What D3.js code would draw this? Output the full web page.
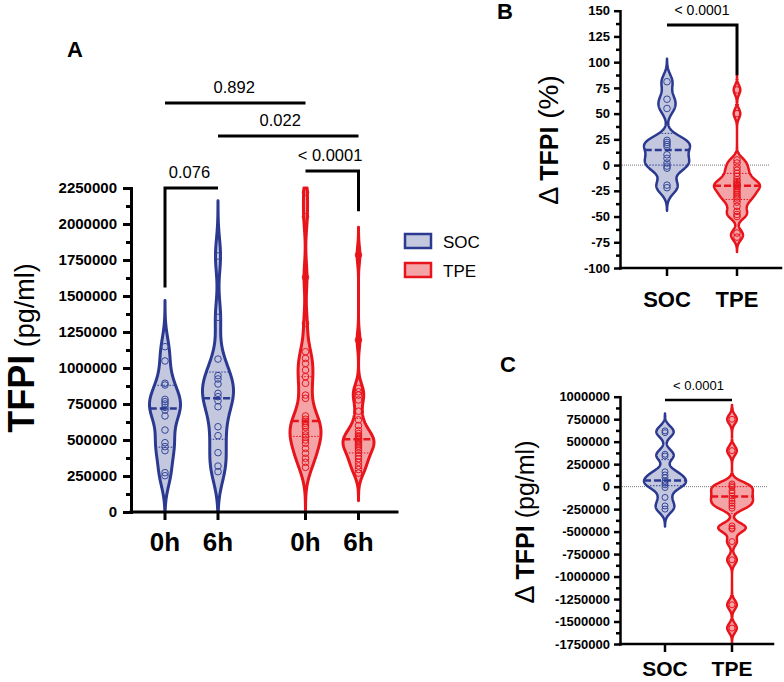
<!DOCTYPE html>
<html>
<head>
<meta charset="utf-8">
<script src="https://cdn.jsdelivr.net/npm/d3@7"></script>
<style>
  body { margin: 0; background: #fff; }
  svg { display: block; }
</style>
</head>
<body>
<div id="frame_div"></div>
<script>
// ---- data ----

const ARMS = ["SOC", "TPE"];
const TIMES = ["0h", "6h"];

// Panel A: TFPI (pg/ml) per arm and time point
const A_SOC_0H = [1148000, 1049000, 894000, 882000, 782000, 766000, 750000, 727000,
                  708000, 667000, 569000, 481000, 454000, 426000, 273000, 252000];
const A_SOC_6H = [1778000, 1352000, 1062000, 947000, 924000, 889000, 824000, 801000,
                  773000, 731000, 592000, 530000, 412000, 319000, 280000];
const A_TPE_0H = [2220000, 2050000, 1630000, 1310000, 1113000, 1067000, 1032000, 986000,
                  940000, 894000, 812000, 789000, 667000, 644000, 630000, 616000, 600000,
                  588000, 558000, 535000, 520000, 500000, 477000, 442000, 408000, 373000,
                  345000, 310000];
const A_TPE_6H = [1785000, 1194000, 859000, 835000, 812000, 778000, 700000, 640000, 600000,
                  565000, 545000, 530000, 520000, 510000, 500000, 490000, 480000, 470000,
                  458000, 445000, 430000, 410000, 390000, 370000, 345000, 320000, 295000,
                  270000];
// [Q1, median, Q3] for 0h and 6h
const A_SOC_QUART = [[450000, 718000, 880000], [505000, 790000, 972000]];
const A_TPE_QUART = [[525000, 632000, 940000], [410000, 505000, 650000]];
const A_TICKS = d3.range(0, 2250001, 250000);
const A_PVALUES = ["0.076", "< 0.0001", "0.892", "0.022"];
const A_PAIRS = [[["SOC", "0h"], ["SOC", "6h"]], [["TPE", "0h"], ["TPE", "6h"]],
                 [["SOC", "0h"], ["TPE", "0h"]], [["SOC", "6h"], ["TPE", "6h"]]];

// Panel B: change in TFPI (%)
const B_SOC = [81, 64, 55, 24, 22, 20, 18, 10, 6.5, 2, -1, -3, -19.5, -22];
const B_TPE = [73, 50, 5, 2, -2, -5, -8, -11, -14, -16, -18, -19, -20, -21, -23, -25,
               -27, -29, -31, -33, -36, -40, -45, -48, -50, -66, -70];
const B_QUART = [[0, 14.6, 30.8], [-33.4, -20.1, -8.1]];
const B_TICKS = d3.range(-100, 151, 25);
const B_PVALUE = "< 0.0001";

// Panel C: change in TFPI (pg/ml)
const C_SOC = [620000, 600000, 360000, 340000, 165000, 130000, 100000, 60000, 40000,
               20000, -10000, -120000, -215000, -250000];
const C_TPE = [749000, 400000, 30000, 10000, -7000, -44000, -70000, -103000, -130000,
               -160000, -185000, -214000, -240000, -437000, -462000, -473000, -611000,
               -814000, -1314000, -1573000];
const C_QUART = [[10000, 67000, 300000], [-300000, -111000, 0]];
const C_TICKS = d3.range(-1750000, 1000001, 250000);
const C_PVALUE = "< 0.0001";

// ---- drawing ----

const FONT = '"Liberation Sans", Arial, Helvetica, sans-serif';
const COLORS = {
  SOC: {stroke: "#2b3990", fill: "#c3c8df", point: "#36479a"},
  TPE: {stroke: "#e8141c", fill: "#f4a4a7", point: "#e8141c"}
};

const svg = d3.select("#frame_div").append("svg")
  .attr("width", 784).attr("height", 682)
  .attr("font-family", FONT);

// gaussian kde, tails cut 3.2 bandwidths past the extreme points
function profile(values, h, lo, hi) {
  const s = values.slice().sort(d3.ascending);
  const a = Math.max(lo, s[0] - 3.2 * h);
  const b = Math.min(hi, s[s.length - 1] + 3.2 * h);
  const dens = v => d3.sum(s, x => Math.exp(-0.5 * ((v - x) / h) ** 2));
  const pts = d3.range(0, 301).map(i => {
    const v = a + (b - a) * i / 300;
    return [v, dens(v)];
  });
  return {dens, pts, top: b};
}

function violin(g, values, quart, cx, y, bw, half, col, sw, r) {
  const dom = y.domain();
  const p = profile(values, bw, dom[0], dom[1]);
  const w = d3.scaleLinear().domain([0, d3.max(p.pts, d => d[1])]).range([0, half]);
  const area = d3.area()
    .y(d => y(d[0]))
    .x0(d => cx - w(d[1]))
    .x1(d => cx + w(d[1]));
  g.append("path").datum(p.pts)
    .attr("d", area)
    .attr("fill", col.fill)
    .attr("stroke", col.stroke)
    .attr("stroke-width", sw)
    .attr("stroke-linejoin", "round");
  g.selectAll(null).data([quart[0], quart[2]]).join("line")
    .attr("x1", d => cx - w(p.dens(d))).attr("x2", d => cx + w(p.dens(d)))
    .attr("y1", d => y(d)).attr("y2", d => y(d))
    .attr("stroke", col.stroke).attr("stroke-width", 1)
    .attr("stroke-dasharray", "1.5,1.5");
  g.selectAll(null).data(values).join("circle")
    .attr("cx", cx).attr("cy", d => y(d)).attr("r", r)
    .attr("fill", "none").attr("stroke", col.point).attr("stroke-width", 1);
  g.append("line")
    .attr("x1", cx - w(p.dens(quart[1]))).attr("x2", cx + w(p.dens(quart[1])))
    .attr("y1", y(quart[1])).attr("y2", y(quart[1]))
    .attr("stroke", col.stroke).attr("stroke-width", 2.5)
    .attr("stroke-dasharray", "7,3");
  return y(p.top);
}

function yAxis(x0, y, majors, o) {
  const minors = d3.range(majors.length - 1).map(i => (majors[i] + majors[i + 1]) / 2);
  const gM = svg.append("g").attr("transform", `translate(${x0},0)`)
    .call(d3.axisLeft(y).tickValues(minors).tickSize(o.minor).tickSizeOuter(0).tickFormat(""));
  gM.select(".domain").remove();
  gM.selectAll(".tick line").attr("stroke-width", o.sw);
  const gA = svg.append("g").attr("transform", `translate(${x0},0)`)
    .call(d3.axisLeft(y).tickValues(majors).tickSize(o.major).tickSizeOuter(0)
      .tickPadding(o.pad).tickFormat(d => String(d)));
  gA.select(".domain").attr("stroke-width", o.sw).attr("stroke-linecap", "square");
  gA.selectAll(".tick line").attr("stroke-width", o.sw);
  gA.selectAll(".tick text")
    .attr("font-family", FONT).attr("font-size", o.fs).attr("font-weight", "bold")
    .attr("fill", "#000");
}

function xAxis(x0, x1, yb, cats, o) {
  svg.append("line").attr("x1", x0).attr("x2", x1).attr("y1", yb).attr("y2", yb)
    .attr("stroke", "#000").attr("stroke-width", o.sw).attr("stroke-linecap", "square");
  svg.selectAll(null).data(cats).join("line")
    .attr("x1", d => d.x).attr("x2", d => d.x).attr("y1", yb).attr("y2", yb + 8)
    .attr("stroke", "#000").attr("stroke-width", o.sw);
  svg.selectAll(null).data(cats).join("text")
    .attr("x", d => d.x).attr("y", o.base)
    .attr("text-anchor", "middle").attr("font-size", o.fs).attr("font-weight", "bold")
    .text(d => d.label);
}

function yLabel(x, y, parts) {
  const t = svg.append("text")
    .attr("transform", `translate(${x},${y}) rotate(-90)`)
    .attr("text-anchor", "middle");
  parts.forEach(p => t.append("tspan")
    .attr("font-size", p.size).attr("font-weight", p.bold ? "bold" : "normal")
    .text(p.text));
}

function bracket(x1, x2, yl, legL, legR, text, dx, fs, sw) {
  let d = `M${x1},${yl}H${x2}`;
  if (legL != null) d = `M${x1},${legL}V${yl}H${x2}`;
  if (legR != null) d += `V${legR}`;
  svg.append("path").attr("d", d)
    .attr("fill", "none").attr("stroke", "#000").attr("stroke-width", sw);
  svg.append("text").attr("x", (x1 + x2) / 2 + dx).attr("y", yl - 10.5)
    .attr("text-anchor", "middle").attr("font-size", fs).text(text);
}

function panelLetter(x, y, s) {
  svg.append("text").attr("x", x).attr("y", y).attr("font-size", 22)
    .attr("font-weight", "bold").text(s);
}

// ---------- Panel A ----------
const yA = d3.scaleLinear().domain([0, 2250000]).range([512, 188]);
const xArmA = d3.scalePoint().domain(ARMS).range([191.5, 332]);
const xTimeA = d3.scalePoint().domain(TIMES).range([-26.5, 26.5]);
const cxA = (arm, t) => xArmA(arm) + xTimeA(t);

const A_SERIES = [
  {arm: "SOC", time: "0h", v: A_SOC_0H, q: A_SOC_QUART[0], bw: 100000},
  {arm: "SOC", time: "6h", v: A_SOC_6H, q: A_SOC_QUART[1], bw: 120000},
  {arm: "TPE", time: "0h", v: A_TPE_0H, q: A_TPE_QUART[0], bw: 100000},
  {arm: "TPE", time: "6h", v: A_TPE_6H, q: A_TPE_QUART[1], bw: 60000}
];
const gA = svg.append("g");
const topA = {};
A_SERIES.forEach(s => {
  topA[s.arm + s.time] = violin(gA, s.v, s.q, cxA(s.arm, s.time), yA, s.bw, 15.5,
    COLORS[s.arm], 3, 3.3);
});

yAxis(131, yA, A_TICKS, {major: 8, minor: 5, pad: 6, sw: 3, fs: 15});
xAxis(131, 397, 512, A_SERIES.map(s => ({x: cxA(s.arm, s.time), label: s.time})),
  {sw: 3, fs: 26, base: 551});
yLabel(34, 348, [{text: "TFPI", size: 36, bold: true}, {text: " (pg/ml)", size: 27}]);
panelLetter(67, 57, "A");

// brackets: bar level and leg ends, in pixels relative to the plot top / violin tips
const A_BRACKET_LAYOUT = [
  {level: yA(2250000), legL: topA.SOC0h - 13, legR: null, dx: -2},
  {level: yA(2250000) - 17, legL: null, legR: topA.TPE6h - 16, dx: -2},
  {level: yA(2250000) - 85, legL: null, legR: null, dx: -1},
  {level: yA(2250000) - 52, legL: null, legR: null, dx: -8}
];
A_PAIRS.forEach((pr, i) => {
  const L = A_BRACKET_LAYOUT[i];
  bracket(cxA(...pr[0]), cxA(...pr[1]), L.level, L.legL, L.legR, A_PVALUES[i], L.dx, 16.5, 3);
});

// legend
const legend = svg.append("g").attr("transform", "translate(405,234)");
ARMS.forEach((a, i) => {
  legend.append("rect").attr("x", 0).attr("y", i * 29).attr("width", 26).attr("height", 14)
    .attr("fill", COLORS[a].fill).attr("stroke", COLORS[a].stroke).attr("stroke-width", 2.5);
  legend.append("text").attr("x", 38).attr("y", i * 29 + 13.5).attr("font-size", 17).text(a);
});

// ---------- Panel B ----------
const yB = d3.scaleLinear().domain([-100, 150]).range([268, 10.7]);
const xB = d3.scalePoint().domain(ARMS).range([667, 737]);
svg.append("line").attr("x1", 620).attr("x2", 770).attr("y1", yB(0)).attr("y2", yB(0))
  .attr("stroke", "#555").attr("stroke-width", 0.8).attr("stroke-dasharray", "1,1");
const gB = svg.append("g");
const topB = {};
[[B_SOC, B_QUART[0], 7], [B_TPE, B_QUART[1], 4.5]].forEach((s, i) => {
  topB[ARMS[i]] = violin(gB, s[0], s[1], xB(ARMS[i]), yB, s[2], 23, COLORS[ARMS[i]], 2.5, 3.3);
});
yAxis(620, yB, B_TICKS, {major: 6, minor: 4, pad: 4, sw: 2.5, fs: 13});
xAxis(620, 781, 268, ARMS.map(a => ({x: xB(a), label: a})), {sw: 2.5, fs: 22, base: 307});
yLabel(558, 140, [{text: "\u0394 ", size: 27}, {text: "TFPI", size: 25, bold: true},
  {text: " (%)", size: 28}]);
panelLetter(497, 19, "B");
bracket(xB("SOC"), xB("TPE"), 25, null, topB.TPE, B_PVALUE, 0, 14, 3);

// ---------- Panel C ----------
const yC = d3.scaleLinear().domain([-1750000, 1000000]).range([644, 396.7]);
const xC = d3.scalePoint().domain(ARMS).range([665, 732]);
svg.append("line").attr("x1", 620).attr("x2", 767).attr("y1", yC(0)).attr("y2", yC(0))
  .attr("stroke", "#555").attr("stroke-width", 0.8).attr("stroke-dasharray", "1,1");
const gC = svg.append("g");
[[C_SOC, C_QUART[0], 60000], [C_TPE, C_QUART[1], 50000]].forEach((s, i) => {
  violin(gC, s[0], s[1], xC(ARMS[i]), yC, s[2], 21, COLORS[ARMS[i]], 2.5, 3);
});
yAxis(620, yC, C_TICKS, {major: 6, minor: 4, pad: 4, sw: 2.5, fs: 13});
xAxis(620, 773, 644, ARMS.map(a => ({x: xC(a), label: a})), {sw: 2.5, fs: 21, base: 676});
yLabel(534, 522, [{text: "\u0394 ", size: 27}, {text: "TFPI", size: 25, bold: true},
  {text: " (pg/ml)", size: 25}]);
panelLetter(500, 372, "C");
bracket(xC("SOC"), xC("TPE"), 400, null, null, C_PVALUE, 0, 13, 2.5);
</script>
</body>
</html>
